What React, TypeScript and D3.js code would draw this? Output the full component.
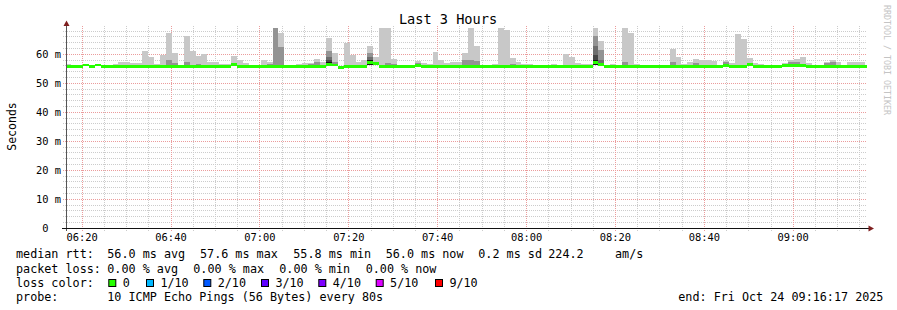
import React from "react";
import * as d3 from "d3";

const WIDTH = 897;
const HEIGHT = 310;

const chartTitle = "Last 3 Hours";
const yAxisTitle = "Seconds";
const watermark = "RRDTOOL / TOBI OETIKER";
const yTickValues = [0, 10, 20, 30, 40, 50, 60];
const yTickLabels = ["0  ", "10 m", "20 m", "30 m", "40 m", "50 m", "60 m"];
const xTickLabels = ["06:20", "06:40", "07:00", "07:20", "07:40", "08:00", "08:20", "08:40", "09:00"];
const viewStart = "2025-10-24T06:16:36";
const viewEnd = "2025-10-24T09:16:36";
const firstStepStart = "2025-10-24T06:16:11";
const stepSeconds = 80;

// median rtt per 80 s step (ms)
const medianRtt = [
  55.9, 55.9, 55.9, 56.3, 55.9, 56.3, 55.9, 55.9, 55.9, 55.9,
  55.9, 55.9, 55.9, 55.9, 55.9, 55.9, 55.9, 55.9, 55.9, 55.9,
  55.9, 55.9, 55.9, 55.9, 55.9, 55.9, 55.9, 55.9, 56.5, 55.9,
  55.7, 55.7, 55.9, 55.9, 55.9, 55.9, 55.9, 55.9, 55.9, 55.9,
  55.9, 55.9, 55.9, 55.9, 56.6, 56.3, 55.6, 55.9, 55.9, 55.9,
  55.9, 57.3, 56.7, 55.9, 55.9, 55.9, 55.9, 55.9, 55.9, 56.1,
  55.9, 55.9, 55.9, 55.9, 55.9, 55.9, 55.9, 55.9, 55.9, 55.9,
  55.9, 55.9, 55.9, 55.9, 55.9, 55.9, 55.9, 55.9, 55.9, 55.9,
  55.9, 55.9, 55.9, 55.9, 55.9, 55.9, 55.9, 55.9, 55.9, 57.3,
  56.6, 55.9, 55.9, 55.9, 55.9, 55.9, 55.9, 55.9, 55.9, 55.9,
  55.9, 55.9, 55.9, 55.9, 55.9, 55.9, 55.9, 55.9, 55.9, 55.9,
  55.9, 56.1, 55.9, 55.9, 55.9, 56.5, 55.9, 55.9, 55.9, 55.9,
  55.9, 56.1, 56.1, 56.1, 56.1, 55.9, 55.9, 55.9, 55.9, 55.9,
  55.9, 55.9, 55.9, 55.9, 55.9, 55.9,
];

// highest ping per step (outer smoke), null = no visible smoke
const smokeMax: (number | null)[] = [
  56.6, 56.2, null, null, null, null, null, 56.2, 56.6, 57.2,
  57.2, 56.9, 57.0, 61.1, 59.1, 56.6, 59.8, 67.3, 60.4, null,
  66.3, 61.1, 59.4, 60.1, 57.2, 57.2, 56.5, 56.5, 59.4, 57.9,
  56.9, 56.2, null, 57.9, 57.2, 68.9, 67.3, null, 56.2, 56.5,
  56.9, 57.1, 58.3, 57.2, 65.7, 60.4, null, 63.9, 59.8, 57.2,
  57.9, 63.0, 59.2, 69.1, 69.1, 58.4, null, null, null, 57.7,
  56.9, 56.6, 60.7, 57.9, 56.9, 57.2, 57.2, 60.4, 69.1, 62.9,
  null, 56.2, 56.6, 69.1, 68.3, 58.7, 57.2, 56.6, 56.6, 56.2,
  56.2, 56.2, 56.6, 56.2, 60.1, 59.1, 56.9, 56.6, 56.6, 69.1,
  64.6, 56.2, 56.6, 56.2, 69.1, 67.3, 56.6, null, 56.2, 56.2,
  56.2, null, 61.8, 59.0, 56.6, 57.3, 58.3, 58.0, 58.0, 57.7,
  null, 57.7, 56.9, 67.0, 65.3, 58.7, 56.9, 56.6, 56.2, 56.1,
  56.2, 56.9, 58.0, 58.3, 59.1, 56.9, 56.2, 56.2, 57.2, 58.0,
  57.2, 56.2, 57.3, 57.3, 57.2, null,
];

// inner smoke levels: [step index, top ms]
const smokeLevel2: [number, number][] = [
  [8, 56.4], [17, 58.0], [18, 57.0], [20, 57.2], [22, 56.6], [34, 56.6], [35, 68.9], [36, 62.6],
  [41, 56.6], [42, 57.2], [44, 61.2], [45, 57.4], [51, 60.5], [52, 57.0], [54, 57.0], [55, 56.8],
  [59, 57.0], [67, 57.9], [68, 57.9], [69, 57.6], [75, 56.6], [89, 66.2], [90, 61.5], [94, 57.3],
  [102, 57.3], [106, 56.9], [111, 57.4], [122, 57.3], [123, 57.3], [128, 57.0], [129, 57.3],
];
const smokeLevel3: [number, number][] = [[44, 59.2], [51, 59.0], [89, 62.8], [90, 58.0]];
const smokeLevel4: [number, number][] = [[44, 58.0], [51, 58.2], [89, 59.7]];
// innermost pings: [step index, low ms, high ms]
const smokeLevel5: [number, number, number][] = [[44, 56.0, 57.5], [51, 56.3, 57.9], [89, 56.2, 57.9]];

const smokeColors = ["#c8c8c8", "#939393", "#6e6e6e", "#464646", "#141414"];
const medianColor = "#26ff00";

const legendRtt = [
  ["median rtt:", 16], ["56.0 ms avg", 107.3], ["57.6 ms max", 200], ["55.8 ms min", 293.3],
  ["56.0 ms now", 385.7], ["0.2 ms sd", 478.3], ["224.2", 548.3], ["am/s", 615],
] as [string, number][];
const legendLoss = [
  ["packet loss:", 16], ["0.00 % avg", 107.3], ["0.00 % max", 193.3], ["0.00 % min", 279.3], ["0.00 % now", 365.7],
] as [string, number][];
const lossColorLabels = ["0", "1/10", "2/10", "3/10", "4/10", "5/10", "9/10"];
const lossColors = ["#26ff00", "#00b8ff", "#0059ff", "#5e00ff", "#7e00ff", "#dd00ff", "#ff0000"];
const lossBoxX = [108.3, 146, 203.3, 261, 318.3, 375.7, 435];
const probeText = "10 ICMP Echo Pings (56 Bytes) every 80s";
const endText = "end: Fri Oct 24 09:16:17 2025";

const MONO = "'DejaVu Sans Mono', monospace";

export default function App() {
  const start = new Date(viewStart);
  const end = new Date(viewEnd);
  const x = d3.scaleTime().domain([start, end]).range([67, 867]);
  const y = d3.scaleLinear().domain([0, 70]).range([228.3, 25.3]);
  const crisp = (v: number) => Math.floor(v) + 0.5;
  const t0 = new Date(firstStepStart).getTime();
  const stepStart = (j: number) => new Date(t0 + j * stepSeconds * 1000);
  const bx = (j: number) => Math.round(x(stepStart(j)));

  const dayStr = viewStart.slice(0, 10);
  const majorTimes = xTickLabels.map((l) => new Date(`${dayStr}T${l}:00`));
  const minorTimes = d3.timeMinute.every(5)!.range(start, end).filter((d) => d.getMinutes() % 20 !== 0);
  const minorY = d3.range(2, 70, 2).filter((v) => v % 10 !== 0);

  const bar = (j: number, lo: number, hi: number, color: string, key: string) => {
    const x0 = bx(j);
    const x1 = bx(j + 1);
    return (
      <rect key={key} x={x0} width={x1 - x0} y={y(hi)} height={Math.max(0, y(lo) - y(hi))} fill={color} />
    );
  };

  const medianPts = medianRtt.map((m, j) => ({ t: stepStart(j), m }));
  medianPts.push({ t: stepStart(medianRtt.length), m: medianRtt[medianRtt.length - 1] });
  const medianArea = d3
    .area<{ t: Date; m: number }>()
    .x((d) => x(d.t))
    .y0((d) => y(d.m - 0.5))
    .y1((d) => y(d.m + 0.5))
    .curve(d3.curveStepAfter)(medianPts);

  const gridGray = "#cccccc";
  const gridRed = "#eb9c9c";
  const legendFont = 11.75;
  const legendY = [258.3, 272.5, 286.7, 300.9];

  return (
    <svg
      width={WIDTH}
      height={HEIGHT}
      style={{ position: "absolute", left: 0, top: 0, background: "#fff" }}
      fontFamily={MONO}
    >
      <defs>
        <clipPath id="plot">
          <rect x={67} y={25} width={800} height={203.3} />
        </clipPath>
      </defs>
      <rect width={WIDTH} height={HEIGHT} fill="#fff" />

      {/* grid */}
      <g strokeDasharray="1,1" strokeWidth={1}>
        {minorY.map((v) => (
          <line key={`hy${v}`} x1={63} x2={867} y1={crisp(y(v))} y2={crisp(y(v))} stroke={gridGray} />
        ))}
        {minorTimes.map((t, i) => (
          <line key={`vx${i}`} x1={crisp(x(t))} x2={crisp(x(t))} y1={26} y2={231} stroke={gridGray} />
        ))}
        {yTickValues.filter((v) => v > 0).map((v) => (
          <line key={`Hy${v}`} x1={63} x2={867} y1={crisp(y(v))} y2={crisp(y(v))} stroke={gridRed} />
        ))}
        {majorTimes.map((t, i) => (
          <line key={`Vx${i}`} x1={crisp(x(t))} x2={crisp(x(t))} y1={26} y2={231} stroke={gridRed} />
        ))}
      </g>

      {/* smoke */}
      <g clipPath="url(#plot)" shapeRendering="crispEdges">
        {smokeMax.map((v, j) => (v == null ? null : bar(j, medianRtt[j] - 0.35, v, smokeColors[0], `s1-${j}`)))}
        {smokeLevel2.map(([j, v]) => bar(j, medianRtt[j] - 0.3, v, smokeColors[1], `s2-${j}`))}
        {smokeLevel3.map(([j, v]) => bar(j, medianRtt[j] - 0.3, v, smokeColors[2], `s3-${j}`))}
        {smokeLevel4.map(([j, v]) => bar(j, medianRtt[j] - 0.3, v, smokeColors[3], `s4-${j}`))}
        {smokeLevel5.map(([j, lo, hi]) => bar(j, lo, hi, smokeColors[4], `s5-${j}`))}
        <path d={medianArea || ""} fill={medianColor} />
      </g>

      {/* axes */}
      <line x1={66.5} x2={66.5} y1={231} y2={24} stroke="#555" strokeWidth={1} />
      <line x1={62} x2={869} y1={228.5} y2={228.5} stroke="#111" strokeWidth={1} />
      <polygon points="63.5,26 69.5,26 66.5,20.5" fill="#7f1f1f" />
      <polygon points="868.5,225.5 868.5,231.5 874,228.5" fill="#7f1f1f" />

      {/* y tick labels */}
      {yTickValues.map((v, i) => (
        <text
          key={`yl${v}`}
          x={61}
          y={y(v) + 3.7}
          textAnchor="end"
          fontSize={10.4}
          fill="#000"
          style={{ whiteSpace: "pre" }}
        >
          {yTickLabels[i]}
        </text>
      ))}

      {/* x tick labels */}
      {majorTimes.map((t, i) => (
        <text key={`xl${i}`} x={x(t)} y={240.5} textAnchor="middle" fontSize={10.4} fill="#000">
          {xTickLabels[i]}
        </text>
      ))}

      {/* title */}
      <text x={448} y={24} textAnchor="middle" fontSize={13.6} fill="#000">
        {chartTitle}
      </text>

      {/* y axis title */}
      <text transform="translate(15.5,126.5) rotate(-90)" textAnchor="middle" fontSize={11.5} fill="#000">
        {yAxisTitle}
      </text>

      {/* watermark */}
      <text transform="translate(884,5) rotate(90)" fontSize={8.3} fill="#c4c4c4">
        {watermark}
      </text>

      {/* legend */}
      <g fontSize={legendFont} fill="#000" style={{ whiteSpace: "pre" }}>
        {legendRtt.map(([s, px], i) => (
          <text key={`r${i}`} x={px} y={legendY[0]}>
            {s}
          </text>
        ))}
        {legendLoss.map(([s, px], i) => (
          <text key={`l${i}`} x={px} y={legendY[1]}>
            {s}
          </text>
        ))}
        <text x={16} y={legendY[2]}>
          loss color:
        </text>
        {lossColorLabels.map((s, i) => (
          <g key={`lc${i}`}>
            <rect
              x={lossBoxX[i] + 0.5}
              y={279.5}
              width={7}
              height={7}
              fill={lossColors[i]}
              stroke="#000"
              strokeWidth={1}
            />
            <text x={lossBoxX[i] + 14.4} y={legendY[2]}>
              {s}
            </text>
          </g>
        ))}
        <text x={16} y={legendY[3]}>
          probe:
        </text>
        <text x={107.3} y={legendY[3]}>
          {probeText}
        </text>
        <text x={678.3} y={legendY[3]}>
          {endText}
        </text>
      </g>
    </svg>
  );
}
